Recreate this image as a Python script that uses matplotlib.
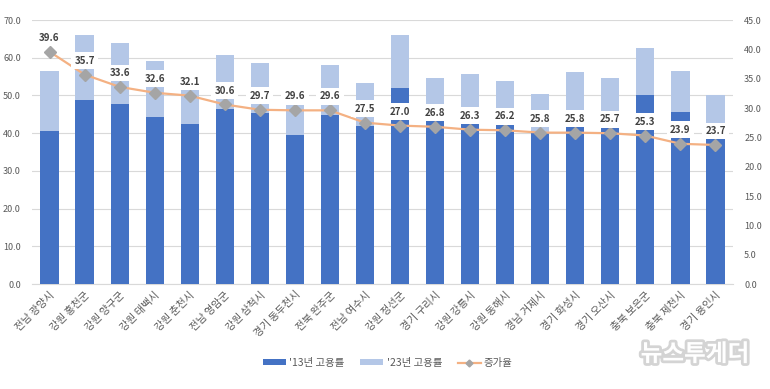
import matplotlib
matplotlib.use("Agg")
import matplotlib.pyplot as plt
import matplotlib.patheffects as pe
from matplotlib.lines import Line2D
from matplotlib.patches import Patch
import numpy as np

plt.rcParams['font.family'] = ['Noto Sans CJK KR', 'DejaVu Sans']

categories = ['전남 광양시', '강원 홍천군', '강원 양구군', '강원 태백시', '강원 춘천시',
              '전남 영암군', '강원 삼척시', '경기 동두천시', '전북 완주군', '전남 여수시',
              '강원 정선군', '경기 구리시', '강원 강릉시', '강원 동해시', '경남 거제시',
              '경기 화성시', '경기 오산시', '충북 보은군', '충북 제천시', '경기 용인시']
emp13 = [40.6, 48.7, 47.7, 44.4, 42.4, 46.4, 45.4, 39.5, 44.9, 42.0,
         51.9, 43.5, 43.2, 42.8, 40.3, 42.3, 42.2, 50.2, 45.7, 40.0]
emp23 = [56.6, 66.1, 63.8, 59.0, 52.4, 60.7, 58.6, 48.3, 58.1, 53.3,
         66.0, 54.6, 55.8, 53.8, 50.3, 56.3, 54.6, 62.7, 56.6, 50.1]
rate = [39.6, 35.7, 33.6, 32.6, 32.1, 30.6, 29.7, 29.6, 29.6, 27.5,
        27.0, 26.8, 26.3, 26.2, 25.8, 25.8, 25.7, 25.3, 23.9, 23.7]
left_ticks = [0, 10, 20, 30, 40, 50, 60, 70]
right_ticks = [0, 5, 10, 15, 20, 25, 30, 35, 40, 45]
legend_labels = ["'13년 고용률", "'23년 고용률", "증가율"]

DARK = '#4472C4'
LIGHT = '#B4C7E7'
LINE = '#F4B183'
MARK = '#A5A5A5'
TXT = '#595959'

fig = plt.figure(figsize=(7.7, 3.89), dpi=100)
ax = fig.add_axes([32/770, 1-284/389, (733-32)/770, (284-20)/389])
x = np.arange(len(categories))
w = 0.52
ax.bar(x, emp23, width=w, color=LIGHT, zorder=2)
ax.bar(x, emp13, width=w, color=DARK, zorder=3)
ax.set_xlim(-0.5, len(categories) - 0.5)
ax.set_ylim(0, 70)
ax.set_yticks(left_ticks)
ax.set_yticklabels([f'{v:.1f}' for v in left_ticks], fontsize=6.5, color=TXT)
ax.yaxis.grid(True, color='#D9D9D9', linewidth=0.8, zorder=0)
ax.set_axisbelow(True)
for s in ['top', 'right', 'left']:
    ax.spines[s].set_visible(False)
ax.spines['bottom'].set_color('#D9D9D9')
ax.tick_params(axis='both', length=0)
ax.tick_params(axis='y', pad=8)
ax.set_xticks(x)
ax.set_xticklabels(categories, rotation=45, ha='right', rotation_mode='anchor',
                   fontsize=7.5, color=TXT)
ax.tick_params(axis='x', pad=4)

ax2 = ax.twinx()
ax2.set_ylim(0, 45)
ax2.set_yticks(right_ticks)
ax2.set_yticklabels([f'{v:.1f}' for v in right_ticks], fontsize=6.5, color=TXT)
ax2.tick_params(axis='y', length=0, pad=8)
for s in ['top', 'right', 'left', 'bottom']:
    ax2.spines[s].set_visible(False)
ax2.plot(x, rate, color=LINE, linewidth=1.6, marker='D', markersize=6.5,
         markerfacecolor=MARK, markeredgecolor=MARK, zorder=4)
for xi, r in zip(x, rate):
    ax2.annotate(f'{r:.1f}', (xi, r), xytext=(0, 10), textcoords='offset points',
                 ha='center', va='center', fontsize=7, fontweight='bold', color='#404040',
                 bbox=dict(boxstyle='square,pad=0.35', facecolor='white', edgecolor='none'),
                 zorder=5)

handles = [Patch(facecolor=DARK), Patch(facecolor=LIGHT),
           Line2D([0], [0], color=LINE, linewidth=1.6, marker='D', markersize=3.5,
                  markerfacecolor=MARK, markeredgecolor=MARK)]
fig.legend(handles, legend_labels, loc='center', bbox_to_anchor=(388/770, 1-363/389),
           ncol=3, frameon=False, fontsize=7.5, handlelength=2.2, handleheight=0.5,
           columnspacing=1.5, handletextpad=0.3, labelcolor=TXT)

fig.text(695/770, 1-354/389, '뉴스투게더', ha='center', va='center', fontsize=17,
         fontweight='bold', color='white',
         path_effects=[pe.withStroke(linewidth=4, foreground='#D4D4D4')])

fig.savefig('out.png', dpi=100)
